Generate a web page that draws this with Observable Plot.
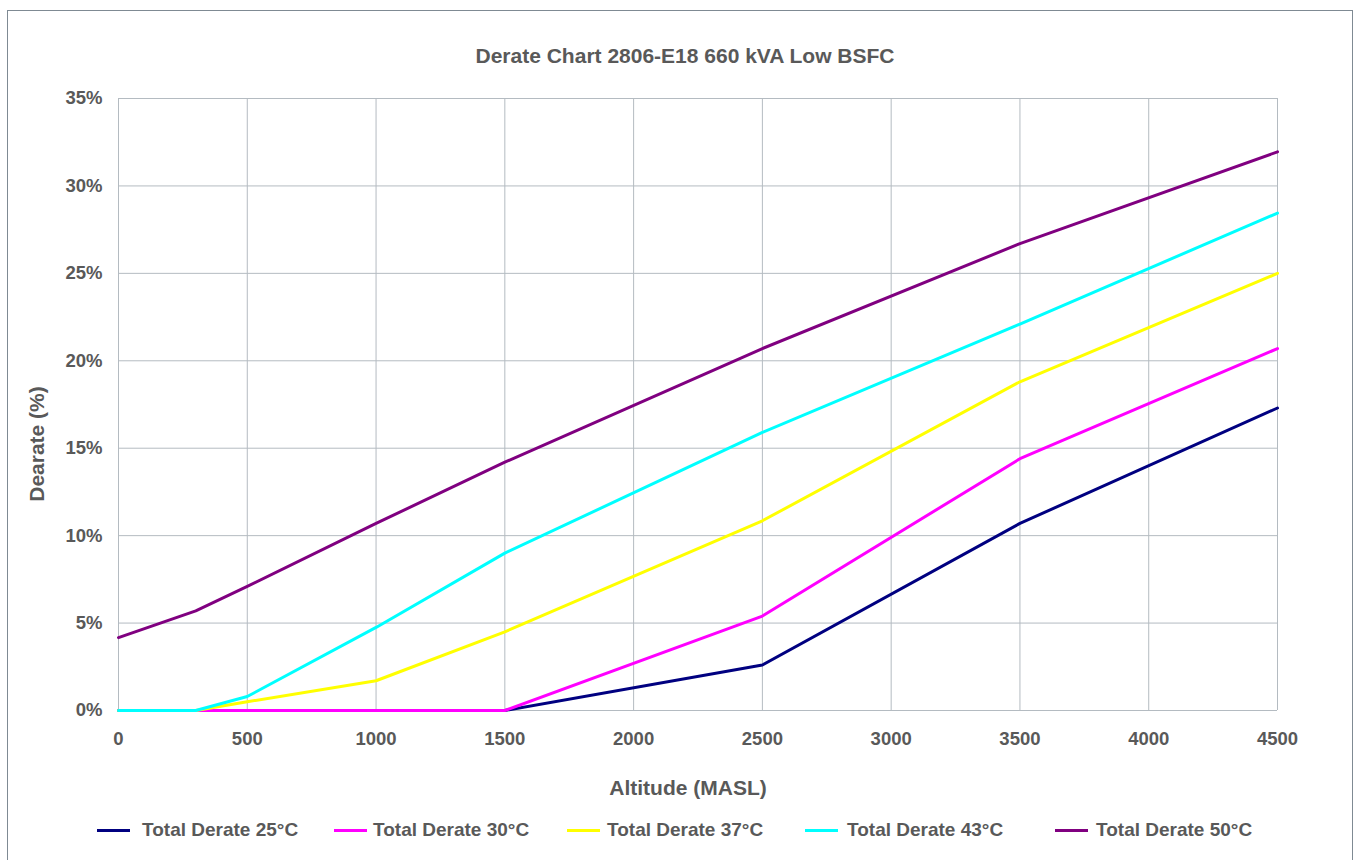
<!DOCTYPE html>
<html>
<head>
<meta charset="utf-8">
<script src="https://cdn.jsdelivr.net/npm/d3@7"></script>
<script src="https://cdn.jsdelivr.net/npm/@observablehq/plot@0.6"></script>
<style>
  html, body { margin: 0; padding: 0; background: #fff; }
  body { width: 1358px; height: 860px; position: relative; overflow: hidden;
         font-family: "Liberation Sans", Arial, sans-serif; font-weight: bold; color: #595959; }
  #frame { position: absolute; left: 7px; top: 10px; width: 1346px; height: 870px;
           border: 1px solid #7f8a93; box-sizing: border-box; }
  #title { position: absolute; left: 12px; width: 1346px; top: 44px; text-align: center; font-size: 21px; line-height: 24px; }
  #chart { position: absolute; left: 0; top: 80px; }
  #xlabel { position: absolute; left: 0; width: 1376px; top: 776px; text-align: center; font-size: 21px; line-height: 24px; }
  #ylabel { position: absolute; left: 37px; top: 444px; font-size: 21px; line-height: 24px; white-space: nowrap;
            transform: translate(-50%, -50%) rotate(-90deg); }
  #legend { position: absolute; left: 0; top: 818px; width: 1358px; height: 24px; font-size: 19px; }
  .sw { position: absolute; top: 11px; width: 33px; height: 3px; }
  .lt { position: absolute; top: 0; line-height: 24px; white-space: nowrap; }
</style>
</head>
<body>
<div id="frame"></div>
<div id="title">Derate Chart 2806-E18 660 kVA Low BSFC</div>
<div id="chart"></div>
<div id="xlabel">Altitude (MASL)</div>
<div id="ylabel">Dearate (%)</div>
<div id="legend"></div>
<script>
const altitude = [0, 300, 500, 1000, 1500, 2500, 3500, 4500];
const derate25 = [0, 0, 0, 0, 0, 2.6, 10.7, 17.3];
const derate30 = [0, 0, 0, 0, 0, 5.4, 14.4, 20.7];
const derate37 = [0, 0, 0.5, 1.7, 4.5, 10.85, 18.8, 25.0];
const derate43 = [0, 0, 0.8, 4.75, 9.0, 15.9, 22.1, 28.45];
const derate50 = [4.17, 5.7, 7.1, 10.7, 14.2, 20.7, 26.7, 31.95];
const seriesNames = ["Total Derate 25°C", "Total Derate 30°C", "Total Derate 37°C", "Total Derate 43°C", "Total Derate 50°C"];
const seriesColors = ["#000080", "#ff00ff", "#ffff00", "#00ffff", "#800080"];
const xTicks = [0, 500, 1000, 1500, 2000, 2500, 3000, 3500, 4000, 4500];
const yTicks = [0, 5, 10, 15, 20, 25, 30, 35];

const allSeries = [derate25, derate30, derate37, derate43, derate50];
const rows = [];
allSeries.forEach((vals, si) => {
  vals.forEach((v, i) => rows.push({series: seriesNames[si], altitude: altitude[i], derate: v}));
});

const gridColor = "#b4bbc1";
const chart = Plot.plot({
  width: 1358,
  height: 730,
  marginLeft: 118,
  marginRight: 81,
  marginTop: 18,
  marginBottom: 100,
  style: {fontFamily: "'Liberation Sans', Arial, sans-serif", fontWeight: "bold", fontSize: "18.5px", color: "#595959", background: "transparent"},
  x: {domain: [0, 4500]},
  y: {domain: [0, 35]},
  color: {domain: seriesNames, range: seriesColors},
  marks: [
    Plot.gridX(xTicks, {stroke: gridColor, strokeOpacity: 1, strokeWidth: 1}),
    Plot.gridY(yTicks, {stroke: gridColor, strokeOpacity: 1, strokeWidth: 1}),
    Plot.axisX(xTicks, {tickSize: 0, tickPadding: 21, tickFormat: d => String(d), fill: "#595959", label: null}),
    Plot.axisY(yTicks, {tickSize: 0, tickPadding: 16, tickFormat: d => d + "%", fill: "#595959", label: null}),
    Plot.line(rows, {x: "altitude", y: "derate", z: "series", stroke: "series", strokeWidth: 3, strokeLinejoin: "round"})
  ]
});
document.getElementById("chart").appendChild(chart);

const swatchX = [97, 334, 567, 805, 1055];
const textX = [142, 373, 607, 847, 1096];
const legend = document.getElementById("legend");
seriesNames.forEach((name, i) => {
  const sw = document.createElement("div");
  sw.className = "sw";
  sw.style.left = swatchX[i] + "px";
  sw.style.background = seriesColors[i];
  legend.appendChild(sw);
  const t = document.createElement("div");
  t.className = "lt";
  t.style.left = textX[i] + "px";
  t.textContent = name;
  legend.appendChild(t);
});
</script>
</body>
</html>
